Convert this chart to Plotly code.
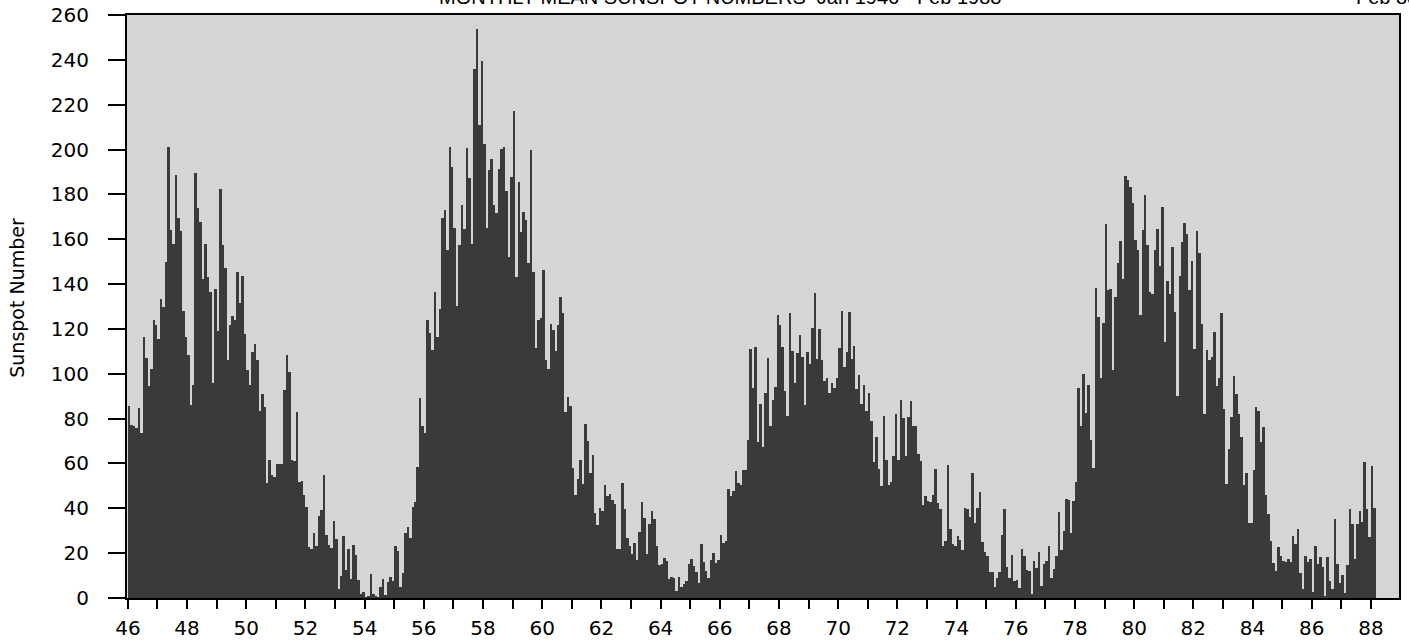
import plotly.graph_objects as go

# Monthly mean sunspot numbers, Jan 1946 - Feb 1988
y1946 = [85.6, 77.2, 76.6, 75.7, 84.9, 73.5, 116.2, 107.2, 94.4, 102.3, 123.8, 121.7]
y1947 = [115.7, 133.4, 129.8, 149.8, 201.3, 163.9, 157.9, 188.8, 169.4, 163.6, 128.0, 116.5]
y1948 = [108.5, 86.1, 94.8, 189.7, 174.0, 167.8, 142.2, 157.9, 143.3, 136.3, 95.8, 138.0]
y1949 = [119.1, 182.3, 157.5, 147.0, 106.2, 121.7, 125.8, 123.8, 145.3, 131.6, 143.5, 117.6]
y1950 = [101.6, 94.8, 109.7, 113.4, 106.2, 83.6, 91.0, 85.2, 51.3, 61.4, 54.8, 54.1]
y1951 = [59.9, 59.9, 59.9, 92.9, 108.5, 100.6, 61.5, 61.0, 83.1, 51.6, 52.4, 45.8]
y1952 = [40.7, 22.7, 22.0, 29.1, 23.4, 36.4, 39.3, 54.9, 28.2, 23.8, 22.1, 34.3]
y1953 = [26.5, 3.9, 10.0, 27.8, 12.5, 21.8, 8.6, 23.5, 19.3, 8.2, 1.6, 2.5]
y1954 = [0.2, 0.5, 10.9, 1.8, 0.8, 0.2, 4.8, 8.4, 1.5, 7.0, 9.2, 7.6]
y1955 = [23.1, 20.8, 4.9, 11.3, 28.9, 31.7, 26.7, 40.7, 42.7, 58.5, 89.2, 76.9]
y1956 = [73.6, 124.0, 118.4, 110.7, 136.6, 116.6, 129.1, 169.6, 173.2, 155.3, 201.3, 192.1]
y1957 = [165.0, 130.2, 157.4, 175.2, 164.6, 200.7, 187.2, 158.0, 235.8, 253.8, 210.9, 239.4]
y1958 = [202.5, 164.9, 190.7, 196.0, 175.3, 171.5, 191.4, 200.2, 201.2, 181.5, 152.3, 187.6]
y1959 = [217.4, 143.1, 185.7, 163.3, 172.0, 168.7, 149.6, 199.6, 145.2, 111.4, 124.0, 125.0]
y1960 = [146.3, 106.0, 102.2, 122.0, 119.6, 110.2, 121.7, 134.1, 127.2, 82.8, 89.6, 85.6]
y1961 = [57.9, 46.1, 53.0, 61.4, 51.0, 77.4, 70.2, 55.8, 63.6, 37.7, 32.6, 40.0]
y1962 = [38.7, 50.3, 45.6, 46.4, 43.7, 42.0, 21.8, 21.8, 51.3, 39.5, 26.9, 23.2]
y1963 = [19.8, 24.4, 17.1, 29.3, 43.0, 35.9, 19.6, 33.2, 38.8, 35.3, 23.4, 14.9]
y1964 = [15.3, 17.7, 16.5, 8.6, 9.5, 9.1, 3.1, 9.3, 4.7, 6.1, 7.4, 15.1]
y1965 = [17.5, 14.2, 11.7, 6.8, 24.1, 15.9, 11.9, 8.9, 16.8, 20.1, 15.8, 17.0]
y1966 = [28.2, 24.4, 25.3, 48.7, 45.3, 47.7, 56.7, 51.2, 50.2, 57.2, 57.2, 70.4]
y1967 = [110.9, 93.6, 111.8, 69.5, 86.5, 67.3, 91.5, 107.2, 76.8, 88.2, 94.3, 126.4]
y1968 = [121.8, 111.9, 92.2, 81.2, 127.2, 110.3, 96.1, 109.3, 117.2, 107.7, 86.0, 109.8]
y1969 = [104.4, 120.5, 135.8, 106.8, 120.0, 106.0, 96.8, 98.0, 91.3, 95.7, 93.5, 97.9]
y1970 = [111.5, 127.8, 102.9, 109.5, 127.5, 106.8, 112.5, 93.0, 99.5, 86.6, 95.2, 83.5]
y1971 = [91.3, 79.0, 60.7, 71.8, 57.5, 49.8, 81.0, 61.4, 50.2, 51.7, 63.2, 82.2]
y1972 = [61.5, 88.4, 80.1, 63.2, 80.5, 88.0, 76.5, 76.8, 64.0, 61.3, 41.6, 45.3]
y1973 = [43.4, 42.9, 46.0, 57.7, 42.4, 39.5, 23.1, 25.6, 59.3, 30.7, 23.9, 23.3]
y1974 = [27.6, 26.0, 21.3, 40.3, 39.5, 36.0, 55.8, 33.6, 40.2, 47.1, 25.0, 20.5]
y1975 = [18.9, 11.5, 11.5, 5.1, 9.0, 11.4, 28.2, 39.7, 13.9, 9.1, 19.4, 7.8]
y1976 = [8.1, 4.3, 21.9, 18.8, 12.4, 12.2, 1.9, 16.4, 13.5, 20.6, 5.2, 15.3]
y1977 = [16.4, 23.1, 8.7, 12.9, 18.6, 38.5, 21.4, 30.1, 44.0, 43.8, 29.1, 43.2]
y1978 = [51.9, 93.6, 76.5, 99.7, 82.7, 95.1, 70.4, 58.1, 138.2, 125.1, 97.9, 122.7]
y1979 = [166.6, 137.5, 138.0, 101.5, 134.4, 149.5, 159.4, 142.2, 188.4, 186.2, 183.3, 176.3]
y1980 = [159.6, 155.0, 126.2, 164.1, 179.9, 157.3, 136.3, 135.4, 155.0, 164.7, 147.9, 174.4]
y1981 = [114.0, 141.3, 135.5, 156.4, 127.5, 90.0, 143.8, 158.7, 167.3, 162.4, 137.5, 150.1]
y1982 = [111.2, 163.6, 153.8, 122.0, 82.2, 110.4, 106.1, 107.6, 118.8, 94.7, 98.1, 127.0]
y1983 = [84.3, 51.0, 66.5, 80.7, 99.2, 91.1, 82.2, 71.8, 50.3, 55.8, 33.3, 33.4]
y1984 = [57.0, 85.1, 83.5, 69.7, 76.4, 46.1, 37.4, 25.5, 15.7, 12.0, 22.8, 18.7]
y1985 = [16.5, 15.9, 17.2, 16.2, 27.5, 24.2, 30.7, 11.1, 3.9, 18.6, 16.2, 17.3]
y1986 = [2.5, 23.2, 15.1, 18.5, 13.7, 1.1, 18.1, 7.4, 3.8, 35.4, 15.2, 6.8]
y1987 = [10.4, 2.4, 14.7, 39.6, 33.0, 17.4, 33.0, 38.7, 33.9, 60.6, 39.9, 27.1]
y1988 = [59.0, 40.0]

start_year = 46
years_data = [y1946, y1947, y1948, y1949, y1950, y1951, y1952, y1953, y1954, y1955,
              y1956, y1957, y1958, y1959, y1960, y1961, y1962, y1963, y1964, y1965,
              y1966, y1967, y1968, y1969, y1970, y1971, y1972, y1973, y1974, y1975,
              y1976, y1977, y1978, y1979, y1980, y1981, y1982, y1983, y1984, y1985,
              y1986, y1987, y1988]

x_tick_vals = list(range(46, 89))
x_tick_text = [str(v) if v % 2 == 0 else "" for v in x_tick_vals]
y_tick_vals = list(range(0, 261, 20))

title_text = "MONTHLY MEAN SUNSPOT NUMBERS\u00a0\u00a0Jan 1946 - Feb 1988"
corner_text = "Feb 88"
y_title = "Sunspot Number"

sunspots = [v for yr in years_data for v in yr]
months_x = [start_year + (i + 0.5) / 12.0 for i in range(len(sunspots))]

fig = go.Figure()
fig.add_trace(go.Bar(
    x=months_x, y=sunspots, width=1 / 12.0,
    marker=dict(color="#3a3a3a", line=dict(width=0)),
    hoverinfo="x+y",
))

tick_font = dict(family="DejaVu Sans", size=20, color="#000000")
PL, PT, PW, PH = 127, 15, 1272, 583
fig.update_layout(
    width=1409, height=644,
    margin=dict(l=PL, r=10, t=PT, b=46, autoexpand=False),
    paper_bgcolor="#ffffff",
    plot_bgcolor="#d5d5d5",
    bargap=0,
    showlegend=False,
    xaxis=dict(
        range=[45.97, 88.95], tickmode="array",
        tickvals=x_tick_vals, ticktext=x_tick_text,
        ticks="outside", ticklen=9, tickwidth=2, tickcolor="#000",
        showline=True, linecolor="#000", linewidth=2, mirror=True,
        showgrid=False, zeroline=False, tickfont=tick_font,
        ticklabelstandoff=2, automargin=False,
    ),
    yaxis=dict(
        range=[0, 260], tickmode="array", tickvals=y_tick_vals,
        ticks="outside", ticklen=17, tickwidth=2, tickcolor="#000",
        showline=True, linecolor="#000", linewidth=2, mirror=True,
        showgrid=False, zeroline=False, tickfont=tick_font,
        ticklabelstandoff=15, automargin=False,
    ),
    annotations=[
        dict(text=y_title, xref="paper", yref="paper",
             x=(17 - PL) / PW, y=0.515, textangle=-90,
             xanchor="center", yanchor="middle", showarrow=False,
             font=dict(family="DejaVu Sans", size=19, color="#000")),
        dict(text=title_text,
             xref="paper", yref="paper", x=(720 - PL) / PW, y=1.031,
             xanchor="center", yanchor="middle", showarrow=False,
             font=dict(family="Liberation Sans", size=20, color="#000")),
        dict(text=corner_text, xref="paper", yref="paper",
             x=(1354 - PL) / PW, y=1.031,
             xanchor="left", yanchor="middle", showarrow=False,
             font=dict(family="Liberation Sans", size=20, color="#000")),
    ],
)

fig.write_html("out.html")
